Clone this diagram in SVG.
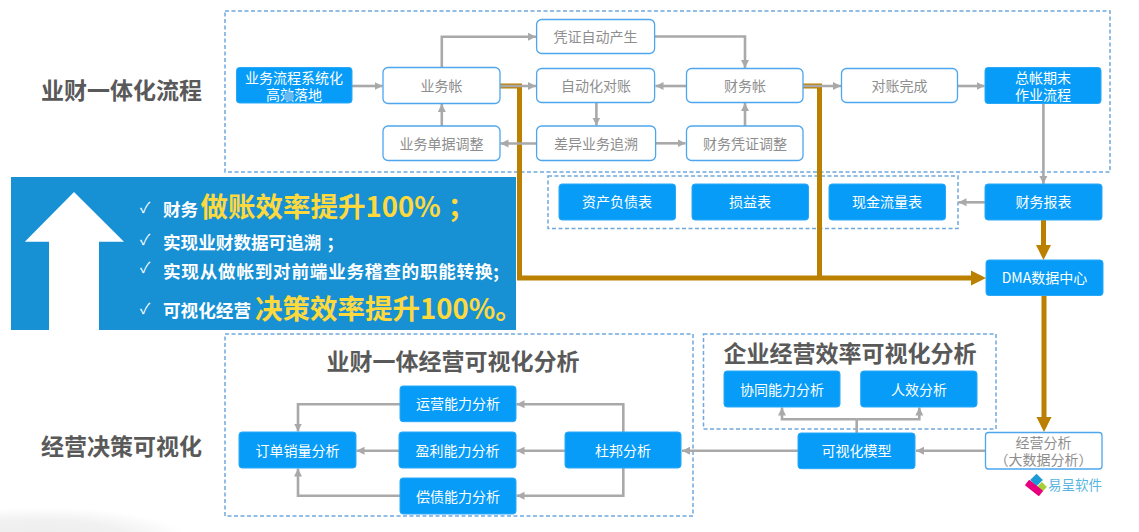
<svg xmlns="http://www.w3.org/2000/svg" width="1139" height="532" viewBox="0 0 1139 532">
<style>
text{font-family:"Noto Sans CJK SC","Noto Sans",sans-serif;dominant-baseline:central}
.n text{font-size:14px;text-anchor:middle;transform:translateY(-1px)}
.b rect{fill:#069cf8;stroke:#2aa8f8;stroke-width:1}
.b text{fill:#fff}
.w rect{fill:#fff;stroke:#4da6ee;stroke-width:1.3}
.w text{fill:#8e8e8e}
.d{fill:none;stroke:#6fa8dc;stroke-width:1.5;stroke-dasharray:4 2.5}
.g{fill:none;stroke:#a9a9a9;stroke-width:2.6}
.ga{marker-end:url(#ah)}
.o{fill:none;stroke:#bb8000;stroke-width:5}
.t{font-size:23px;font-weight:700;fill:#595959;text-anchor:middle;transform:translateY(-1px)}
.p{font-size:17.6px;font-weight:700;fill:#fff}
.y{font-size:27.5px;font-weight:700;fill:#fdd93e}
.c{font-size:15px;fill:#fff;text-anchor:middle}
</style>
<defs>
<marker id="ah" markerUnits="userSpaceOnUse" markerWidth="10" markerHeight="10" refX="8" refY="5" orient="auto"><path d="M0 1L8 5L0 9Z" fill="#a9a9a9"/></marker>
<marker id="oh" markerUnits="userSpaceOnUse" markerWidth="16" markerHeight="16" refX="10" refY="8" orient="auto"><path d="M0 0.5L15 8L0 15.5Z" fill="#bb8000"/></marker>
<radialGradient id="sh"><stop offset="0" stop-color="#ececec"/><stop offset="0.6" stop-color="#f1f1f1"/><stop offset="1" stop-color="#fff"/></radialGradient>
</defs>
<rect width="1139" height="532" fill="#fff"/>
<ellipse cx="40" cy="540" rx="150" ry="33" fill="url(#sh)"/>
<g id="groups">
<rect class="d" x="225" y="11" width="885" height="161"/>
<rect class="d" x="548" y="176" width="410" height="52.5"/>
<rect class="d" x="225" y="334" width="468" height="182"/>
<rect class="d" x="703.5" y="334" width="292.5" height="95"/>
</g>
<g id="panel">
<rect x="11" y="177" width="505" height="153" fill="#1790d4"/>
<path d="M74 192L124 241.7H99V330H49V241.7H24.8Z" fill="#fff"/>
<text class="c" x="145" y="206">✓</text>
<text class="c" x="145" y="238">✓</text>
<text class="c" x="145" y="266.500">✓</text>
<text class="c" x="145" y="307">✓</text>
<text class="p" x="163" y="208.500">财务</text>
<text class="y" x="200.500" y="205">做账效率提升100%<tspan dx="7">；</tspan></text>
<text class="p" x="163" y="241">实现业财数据可追溯<tspan dx="5">；</tspan></text>
<text class="p" x="163" y="270" textLength="336" lengthAdjust="spacing">实现从做帐到对前端业务稽查的职能转换;</text>
<text class="p" x="163" y="309.500">可视化经营</text>
<text class="y" x="255" y="306.500">决策效率提升100%。</text>
</g>
<g id="connectors">
<path class="o" d="M500 86H519.500V278H981" marker-end="url(#oh)"/>
<path class="o" d="M803 86H819.500V278"/>
<path class="o" d="M1043.500 220V255" marker-end="url(#oh)"/>
<path class="o" d="M1044 295.500V427" marker-end="url(#oh)"/>
<path class="g ga" d="M352 86H382.500"/>
<path class="g ga" d="M441.800 67.500V36.700H536"/>
<path class="g ga" d="M441.800 126V104"/>
<path class="g ga" d="M536.600 143.500H500.500"/>
<path class="g ga" d="M500 86H536"/>
<path class="g ga" d="M686.500 86H655.500"/>
<path class="g ga" d="M596.400 102.500V125.500"/>
<path class="g ga" d="M655.500 143.300H685.500"/>
<path class="g ga" d="M745 126V103"/>
<path class="g ga" d="M654.700 36.500H745V68"/>
<path class="g ga" d="M803 86H841"/>
<path class="g ga" d="M957.600 86H984.500"/>
<path class="g ga" d="M1043.400 103.500V184"/>
<path class="g ga" d="M985 202.300H958.500"/>
<path class="g ga" d="M985 450.700H916"/>
<path class="g ga" d="M798 450.700H682"/>
<path class="g" d="M856.700 433V419.300"/>
<path class="g ga" d="M856.700 419.300H782V407.500"/>
<path class="g ga" d="M856.700 419.300H919.300V407.500"/>
<path class="g ga" d="M623.300 432V404.300H516.500"/>
<path class="g ga" d="M565 450.700H516.500"/>
<path class="g ga" d="M623.300 468V495.700H516.500"/>
<path class="g ga" d="M400 404.300H298V431.500"/>
<path class="g ga" d="M399 450.700H356.500"/>
<path class="g ga" d="M400 495.700H298V468.500"/>
</g>
<text class="t" x="121.500" y="90">业财一体化流程</text>
<text class="t" x="121.500" y="446">经营决策可视化</text>
<text class="t" x="453" y="361">业财一体经营可视化分析</text>
<text class="t" x="850" y="352.500">企业经营效率可视化分析</text>
<g id="n1" class="n b"><rect x="236.500" y="67.500" width="115.500" height="35.500" rx="3"/><text x="294" y="77.500">业务流程系统化</text><text x="294" y="95">高效落地</text><circle cx="289" cy="96.500" r="5" fill="#6ab8f0"/></g>
<g id="n2" class="n w"><rect x="383" y="67.500" width="117" height="36" rx="5"/><text x="441.500" y="86">业务帐</text></g>
<g id="n3" class="n w"><rect x="383" y="126" width="117" height="34.500" rx="5"/><text x="441.500" y="143.500">业务单据调整</text></g>
<g id="n4" class="n w"><rect x="536.600" y="19.500" width="118" height="34" rx="5"/><text x="595.500" y="36.500">凭证自动产生</text></g>
<g id="n5" class="n w"><rect x="536.600" y="68.500" width="118" height="34" rx="5"/><text x="596" y="86">自动化对账</text></g>
<g id="n6" class="n w"><rect x="536.600" y="126" width="119" height="34.500" rx="5"/><text x="596" y="143.500">差异业务追溯</text></g>
<g id="n7" class="n w"><rect x="686.500" y="68.500" width="116.500" height="34" rx="5"/><text x="745" y="86">财务帐</text></g>
<g id="n8" class="n w"><rect x="686.500" y="126" width="116.500" height="34.500" rx="5"/><text x="745" y="143.500">财务凭证调整</text></g>
<g id="n9" class="n w"><rect x="841.500" y="68.500" width="116" height="34" rx="5"/><text x="899.500" y="86">对账完成</text></g>
<g id="n10" class="n b"><rect x="985" y="67.500" width="116" height="36" rx="3"/><text x="1043" y="78">总帐期末</text><text x="1043" y="94.500">作业流程</text></g>
<g id="n11" class="n b"><rect x="559" y="184" width="116.500" height="36" rx="3"/><text x="617" y="202">资产负债表</text></g>
<g id="n12" class="n b"><rect x="692" y="184" width="116.500" height="36" rx="3"/><text x="750" y="202">损益表</text></g>
<g id="n13" class="n b"><rect x="829" y="184" width="116.500" height="36" rx="3"/><text x="887" y="202">现金流量表</text></g>
<g id="n14" class="n b"><rect x="985" y="184" width="117" height="36" rx="3"/><text x="1043.500" y="202">财务报表</text></g>
<g id="n15" class="n b"><rect x="986" y="260" width="117" height="35.500" rx="3"/><text x="1044.500" y="278">DMA数据中心</text></g>
<g id="n16" class="n b"><rect x="400" y="386" width="116" height="35.700" rx="3"/><text x="458" y="404">运营能力分析</text></g>
<g id="n17" class="n b"><rect x="399" y="432" width="117" height="36" rx="3"/><text x="457.500" y="450.500">盈利能力分析</text></g>
<g id="n18" class="n b"><rect x="400" y="478" width="116" height="36" rx="3"/><text x="458" y="496.500">偿债能力分析</text></g>
<g id="n19" class="n b"><rect x="239" y="432" width="117" height="36" rx="3"/><text x="297.500" y="450.500">订单销量分析</text></g>
<g id="n20" class="n b"><rect x="565" y="432" width="116" height="36" rx="3"/><text x="623" y="450.500">杜邦分析</text></g>
<g id="n21" class="n b"><rect x="724" y="371" width="116" height="36" rx="3"/><text x="782" y="389.500">协同能力分析</text></g>
<g id="n22" class="n b"><rect x="860.700" y="371" width="116.300" height="36" rx="3"/><text x="919" y="389.500">人效分析</text></g>
<g id="n23" class="n b"><rect x="798" y="433" width="117" height="35.700" rx="3"/><text x="856.500" y="451">可视化模型</text></g>
<g id="n24" class="n w"><rect x="985.500" y="432.500" width="116.500" height="36.500" rx="3"/><text x="1043.500" y="442.500">经营分析</text><text x="1043.500" y="459.500">（大数据分析）</text></g>
<g id="logo">
<rect x="-4.500" y="-4.500" width="9" height="9" fill="#1c9ad6" transform="translate(1036.500 480) rotate(45)"/>
<rect x="-3.500" y="-3.500" width="7" height="7" fill="#a6ce39" transform="translate(1042 487) rotate(45)"/>
<rect x="-9" y="-3.500" width="18" height="7" rx="1" fill="#e6007e" transform="translate(1034 488) rotate(38)"/>
<text x="1048" y="484" style="font-size:13.500px;fill:#58b4e0">易呈软件</text>
</g>
</svg>
